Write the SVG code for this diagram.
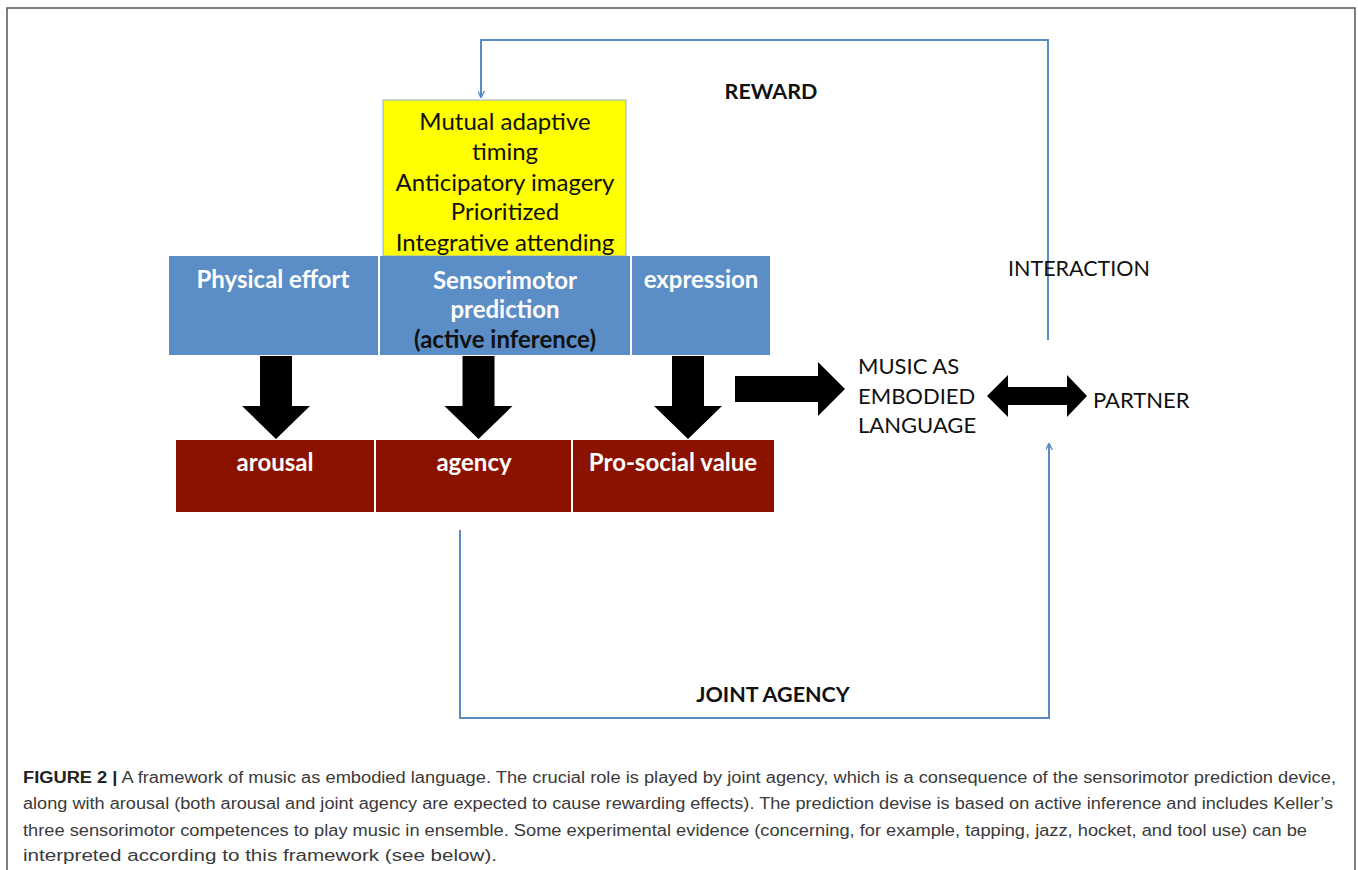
<svg xmlns="http://www.w3.org/2000/svg" width="1358" height="870" viewBox="0 0 1358 870">
<style>
.lbl{font-family:Lato,"Open Sans","Liberation Sans",sans-serif;fill:#111;}
.yl{font-size:24px;text-anchor:middle;}
.wb{font-size:24px;font-weight:bold;fill:#fff;text-anchor:middle;}
.kb{font-size:24px;font-weight:bold;fill:#111;text-anchor:middle;}
.rg{font-size:22px;}
.hd{font-size:21.5px;font-weight:bold;text-anchor:middle;}
.cap{font-family:"Liberation Sans",Arial,sans-serif;font-size:16px;fill:#3a3a3a;}
.conn{fill:none;stroke:#5b8bc4;stroke-width:2;}
.blk{fill:#000;}
.blue{fill:#5b8ec6;}
.red{fill:#8c1200;}
</style>
<defs>
<marker id="ah" viewBox="0 0 10 10" refX="9" refY="5" markerWidth="7" markerHeight="7" markerUnits="userSpaceOnUse" orient="auto">
<path d="M0,0 L10,5 L0,10" fill="none" stroke="#5b8bc4" stroke-width="2"/>
</marker>
</defs>
<rect width="1358" height="870" fill="#fff"/>
<path d="M7,870 V8 H1355 V870" fill="none" stroke="#555" stroke-width="1.5"/>

<g id="competences">
<rect x="383" y="100" width="243" height="156" fill="#ffff00" stroke="#8fb0d8" stroke-width="1"/>
<text class="lbl yl" x="505" y="130">Mutual adaptive</text>
<text class="lbl yl" x="505" y="160">timing</text>
<text class="lbl yl" x="505" y="191">Anticipatory imagery</text>
<text class="lbl yl" x="505" y="220">Prioritized</text>
<text class="lbl yl" x="505" y="251">Integrative attending</text>
</g>

<g id="physical-effort">
<rect class="blue" x="169" y="256" width="209" height="99"/>
<text class="lbl wb" x="273" y="288">Physical effort</text>
</g>
<g id="sensorimotor-prediction">
<rect class="blue" x="380" y="256" width="250" height="99"/>
<text class="lbl wb" x="505" y="289">Sensorimotor</text>
<text class="lbl wb" x="505" y="318">prediction</text>
<text class="lbl kb" x="505" y="348">(active inference)</text>
</g>
<g id="expression">
<rect class="blue" x="632" y="256" width="138" height="99"/>
<text class="lbl wb" x="701" y="288">expression</text>
</g>

<g id="arousal">
<rect class="red" x="176" y="440" width="198" height="72"/>
<text class="lbl wb" x="275" y="471">arousal</text>
</g>
<g id="agency">
<rect class="red" x="376" y="440" width="195" height="72"/>
<text class="lbl wb" x="474" y="471">agency</text>
</g>
<g id="pro-social-value">
<rect class="red" x="573" y="440" width="201" height="72"/>
<text class="lbl wb" x="673" y="471">Pro-social value</text>
</g>

<g id="music-as-embodied-language">
<text class="lbl rg" x="858" y="374">MUSIC AS</text>
<text class="lbl rg" x="858" y="404">EMBODIED</text>
<text class="lbl rg" x="858" y="433">LANGUAGE</text>
</g>
<g id="partner">
<text class="lbl rg" x="1093" y="408">PARTNER</text>
</g>

<g id="connectors">
<path class="blk" d="M260,356 H292 V406 H310 L276,439 L242,406 H260 Z"/>
<path class="blk" d="M462.5,356 H494.5 V406 H512.5 L478.5,439 L444.5,406 H462.5 Z"/>
<path class="blk" d="M672,356 H704 V406 H722 L688,439 L654,406 H672 Z"/>
<path class="blk" d="M735,376 H818 V362 L845,389 L818,416 V402 H735 Z"/>
<path class="blk" d="M987,396 L1008,375 V387 H1067 V375 L1087,396 L1067,417 V405 H1008 V417 Z"/>
<path class="conn" d="M1048,340 V40 H481 V97" marker-end="url(#ah)"/>
<path class="conn" d="M460,530 V718 H1049 V444" marker-end="url(#ah)"/>
<text class="lbl hd" x="771" y="99">REWARD</text>
<text class="lbl" x="1008" y="276" font-size="21.5">INTERACTION</text>
<text class="lbl hd" x="773" y="702">JOINT AGENCY</text>
</g>

<g id="caption">
<text class="cap" x="23" y="783" textLength="1313" lengthAdjust="spacingAndGlyphs"><tspan font-weight="bold" fill="#222">FIGURE 2 |</tspan> A framework of music as embodied language. The crucial role is played by joint agency, which is a consequence of the sensorimotor prediction device,</text>
<text class="cap" x="23" y="809" textLength="1310" lengthAdjust="spacingAndGlyphs">along with arousal (both arousal and joint agency are expected to cause rewarding effects). The prediction devise is based on active inference and includes Keller’s</text>
<text class="cap" x="23" y="836" textLength="1284" lengthAdjust="spacingAndGlyphs">three sensorimotor competences to play music in ensemble. Some experimental evidence (concerning, for example, tapping, jazz, hocket, and tool use) can be</text>
<text class="cap" x="23" y="861" textLength="474" lengthAdjust="spacingAndGlyphs">interpreted according to this framework (see below).</text>
</g>
</svg>
